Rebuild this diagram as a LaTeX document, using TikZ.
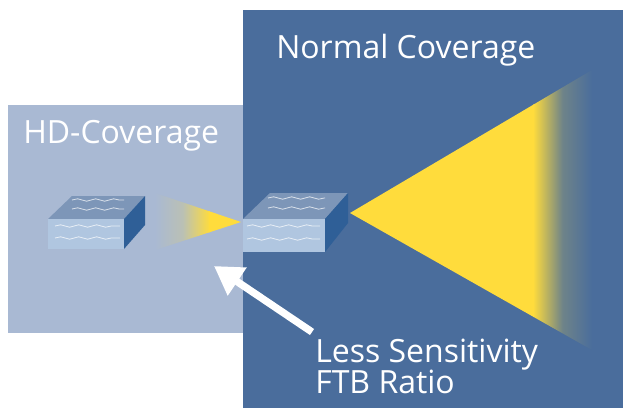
\documentclass[tikz,border=0pt]{standalone}
\usepackage{fontspec}
\setmainfont{Open Sans}
\usetikzlibrary{arrows.meta,decorations.pathmorphing}
\definecolor{hdblue}{HTML}{A9B9D3}
\definecolor{normalblue}{HTML}{4A6D9C}
\definecolor{beamyellow}{HTML}{FFDC3C}
\definecolor{boxtop}{HTML}{7D96B8}
\definecolor{boxside}{HTML}{2F5F97}
\definecolor{boxfront}{HTML}{B0C6E0}
\begin{document}
\begin{tikzpicture}[x=0.75pt,y=-0.75pt]
    \tikzstyle{label}=[text=white,anchor=base west,inner sep=0pt,font=\fontsize{24}{28}\selectfont]
    \tikzstyle{wave}=[draw=white,opacity=0.7,line width=0.6pt,decorate,decoration={snake,segment length=13.5pt,amplitude=0.9pt}]
    \useasboundingbox (0,0) rectangle (623,408);
    \fill[hdblue] (8,105) rectangle (243,333);
    \fill[normalblue] (243,10) rectangle (623,408);
    \begin{scope}
        \clip (241,222) -- (155,193) -- (155,250) -- cycle;
        \shade[left color=hdblue,right color=beamyellow,middle color=hdblue!80!beamyellow] (155,190) rectangle (210,254);
        \fill[beamyellow] (209,190) rectangle (243,254);
    \end{scope}
    \begin{scope}
        \clip (350,213) -- (592,70) -- (592,350) -- cycle;
        \fill[beamyellow] (350,60) rectangle (534,360);
        \shade[left color=beamyellow,right color=normalblue,middle color=normalblue!80!beamyellow] (533,60) rectangle (592,360);
    \end{scope}
    \fill[boxtop] (48,219) -- (72,196) -- (145,196) -- (124,219) -- cycle;
    \fill[boxside] (124,219) -- (145,196) -- (145,225) -- (124,249) -- cycle;
    \fill[boxfront] (48,219) rectangle (124,249);
    \draw[wave] (72,200) -- (124,200);
    \draw[wave] (72,209) -- (124,209);
    \draw[wave] (55,226) -- (120,226);
    \draw[wave] (55,238) -- (120,238);
    \fill[boxtop] (243,219) -- (270,193) -- (348,193) -- (325,219) -- cycle;
    \fill[boxside] (325,219) -- (348,193) -- (348,223) -- (325,252) -- cycle;
    \fill[boxfront] (243,219) rectangle (325,252);
    \draw[wave] (268,198) -- (325,198);
    \draw[wave] (268,208) -- (325,208);
    \draw[wave] (247,226) -- (320,226);
    \draw[wave] (247,239) -- (320,239);
    \node[label] (hd) at (23,143) {HD-Coverage};
    \node[label] (normal) at (276,58) {Normal Coverage};
    \node[label] (less) at (315,362) {Less Sensitivity};
    \node[label] (ftb) at (315,393) {FTB Ratio};
    \coordinate (tail) at (312,332);
    \coordinate (tip) at (214,266);
    \draw[white,line width=5.5pt,-{Triangle[width=24pt,length=21pt]}] (tail) -- (tip);
\end{tikzpicture}
\end{document}
